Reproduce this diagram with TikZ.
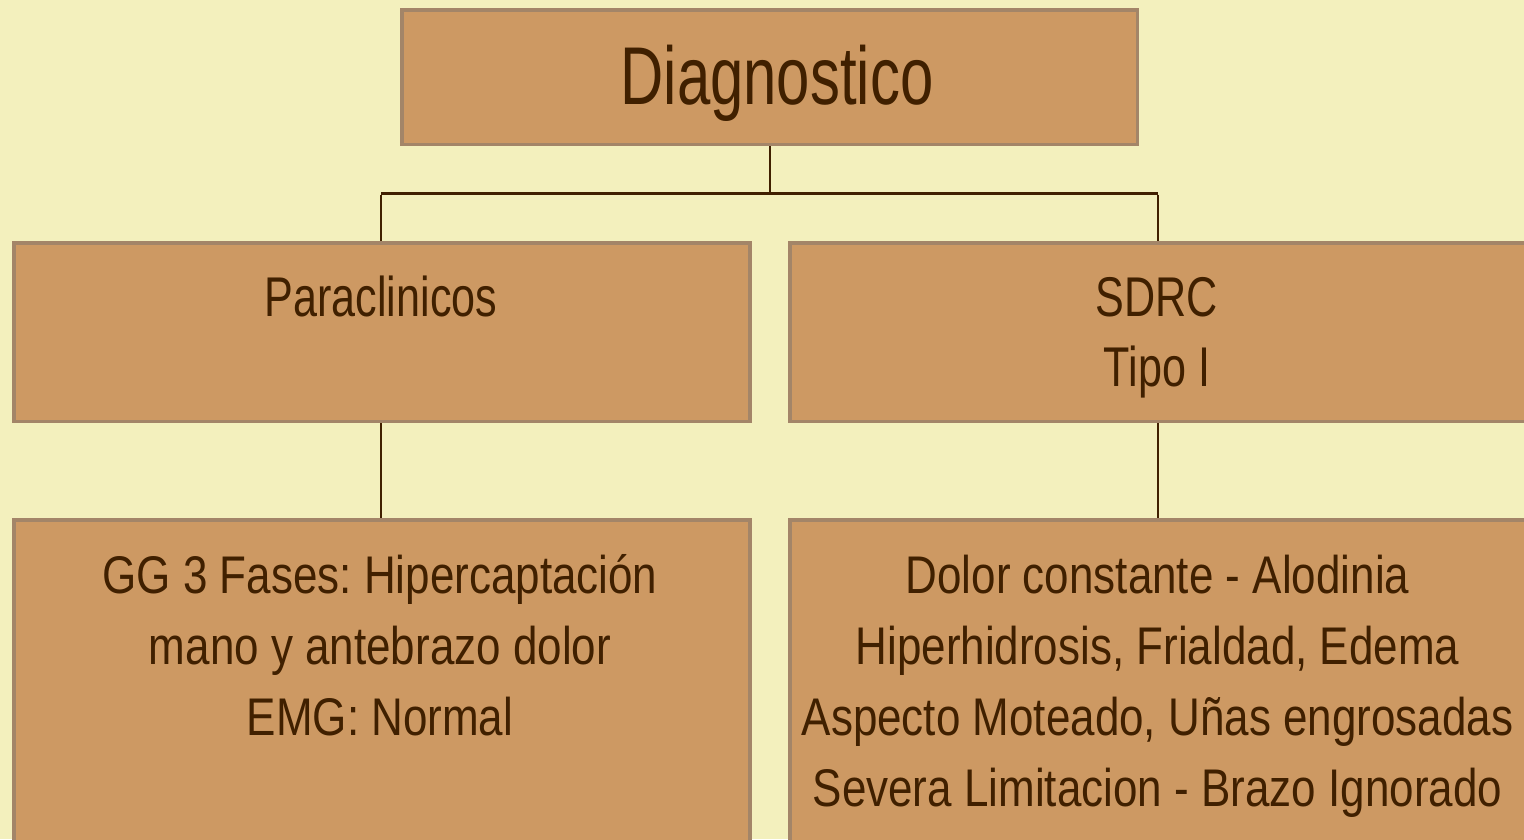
\documentclass[tikz,border=0pt]{standalone}
\usepackage{fontspec}
\setmainfont{Liberation Sans}
\newfontfamily\fbig{Liberation Sans}[FakeStretch=0.73]
\newfontfamily\fmid{Liberation Sans}[FakeStretch=0.77]
\newfontfamily\fsmall{Liberation Sans}[FakeStretch=0.83]
\definecolor{bg}{RGB}{243,240,189}
\definecolor{boxfill}{RGB}{205,153,99}
\definecolor{boxline}{RGB}{163,133,104}
\definecolor{ink}{RGB}{64,32,0}
\tikzset{
  boxnode/.style={draw=boxline, fill=boxfill, line width=3.5pt, rectangle, inner sep=0pt, anchor=north west},
  txt/.style={text=ink, inner sep=0pt, anchor=base, font=\frenchspacing},
  link/.style={draw=ink, line width=2pt},
  bar/.style={draw=ink, line width=3pt}
}
\begin{document}
\frenchspacing
\begin{tikzpicture}[x=1pt, y=-1pt]
\useasboundingbox (0,0) rectangle (1524,839);
\clip (0,0) rectangle (1524,839);
\fill[bg] (0,0) rectangle (1524,839);
% boxes (outer edges match the reference; anchor includes outer sep)
\node[boxnode, minimum width=735.5pt, minimum height=134.5pt] (top) at (400,8) {};
\node[boxnode, minimum width=736pt, minimum height=178.5pt] (pl) at (12,241) {};
\node[boxnode, minimum width=740pt, minimum height=178.5pt] (pr) at (788,241) {};
\node[boxnode, minimum width=736pt, minimum height=360pt] (bl) at (12,518) {};
\node[boxnode, minimum width=740pt, minimum height=360pt] (br) at (788,518) {};
% connectors
\coordinate (j) at (770,193);
\coordinate (jl) at (381,193);
\coordinate (jr) at (1158,193);
\draw[link] (top.south -| j) -- (j);
\draw[bar] (jl) -- (jr);
\draw[link] ([yshift=-1.5pt]jl) -- (jl |- pl.north);
\draw[link] ([yshift=-1.5pt]jr) -- (jr |- pr.north);
\draw[link] (pl.south -| jl) -- (bl.north -| jl);
\draw[link] (pr.south -| jr) -- (br.north -| jr);
% texts
\node[txt] (tTop) at (777,104) {\fbig\fontsize{82}{90}\selectfont Diagnostico};
\node[txt] (tPl) at (381,316) {\fmid\fontsize{56}{70}\selectfont Paraclinicos};
\node[txt] (tPr) at (1157,316) {\fmid\fontsize{56}{70}\selectfont\begin{tabular}[t]{@{}c@{}}SDRC\\Tipo I\end{tabular}};
\node[txt] (tBl) at (380,593) {\fsmall\fontsize{53}{71}\selectfont\begin{tabular}[t]{@{}c@{}}GG 3 Fases: Hipercaptación\\mano y antebrazo dolor\\EMG: Normal\end{tabular}};
\node[txt] (tBr) at (1157.5,593) {\fsmall\fontsize{53}{71}\selectfont\begin{tabular}[t]{@{}c@{}}Dolor constante - Alodinia\\Hiperhidrosis, Frialdad, Edema\\Aspecto Moteado, Uñas engrosadas\\Severa Limitacion - Brazo Ignorado\end{tabular}};
\end{tikzpicture}
\end{document}
